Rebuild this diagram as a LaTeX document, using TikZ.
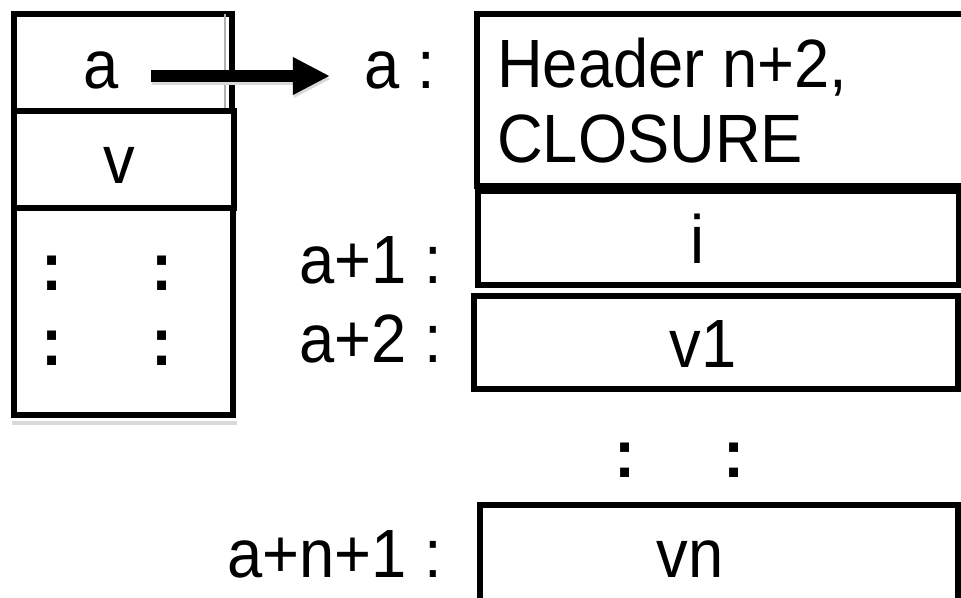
\documentclass[tikz,border=0pt]{standalone}
\usepackage{fontspec}
\setmainfont{Liberation Sans}
\usetikzlibrary{arrows.meta}
\newcommand{\tall}[1]{\scalebox{1}[1.08]{#1}}

\begin{document}
\begin{tikzpicture}[x=0.025cm,y=-0.025cm,
		cell/.style={line width=4pt},
		lbl/.style={font=\fontsize{45}{49.4}\selectfont,inner sep=0pt},
		dots/.style={font=\fontsize{45}{49.4}\selectfont\bfseries,inner sep=0pt},
		ptr/.style={line width=8.5pt,-{Triangle[length=0.925cm,width=0.875cm]}}]
			\useasboundingbox (0,0) rectangle (961,598);
			% stack
			\draw[gray!30,line width=3pt] (12,423) -- (237,423);
			\draw[cell] (14,14) rectangle (232,111);
			\draw[gray!60,line width=1pt] (225,14) -- (225,111);
			\draw[cell] (14,111) rectangle (234,208);
			\draw[cell] (14,208) rectangle (233,415);
			\node[lbl,anchor=base] (ca) at (101,88) {\tall{a}};
			\node[lbl,anchor=base] (cv) at (119,183) {\tall{v}};
			\node[dots,anchor=base] (d1) at (52,290) {\tall{:}};
			\node[dots,anchor=base] (d2) at (162,290) {\tall{:}};
			\node[dots,anchor=base] (d3) at (52,365) {\tall{:}};
			\node[dots,anchor=base] (d4) at (162,365) {\tall{:}};
			% pointer
			\coordinate (tail) at (151,76);
			\coordinate (tip) at (330,76);
			\draw[ptr,gray!30] ([shift={(1,3)}]tail) -- ([shift={(1,3)}]tip);
			\draw[ptr] (tail) -- (tip);
			% heap block
			\draw[cell] (477,14) rectangle (975,186);
			\draw[cell] (478,191) rectangle (959,285);
			\draw[cell] (474,296) rectangle (958,389);
			\draw[cell] (480,505) rectangle (958,640);
			\node[lbl,anchor=base east] (la) at (435,88) {\tall{a :}};
			\node[lbl,anchor=base east] (la1) at (442,283) {\tall{a+1 :}};
			\node[lbl,anchor=base east] (la2) at (442,362) {\tall{a+2 :}};
			\node[lbl,anchor=base east] (lan) at (442,577) {\tall{a+n+1 :}};
			\node[lbl,anchor=base west] (hdr) at (497,87) {\tall{\begin{tabular}[t]{@{}l@{}}Header n+2,\\CLOSURE\end{tabular}}};
			\node[lbl,anchor=base] (fi) at (698,263) {\tall{i}};
			\node[lbl,anchor=base] (fv1) at (703,367) {\tall{v1}};
			\node[dots,anchor=base] (d5) at (625,477) {\tall{:}};
			\node[dots,anchor=base] (d6) at (734,477) {\tall{:}};
			\node[lbl,anchor=base] (fvn) at (690,577) {\tall{vn}};
		\end{tikzpicture}
\end{document}
